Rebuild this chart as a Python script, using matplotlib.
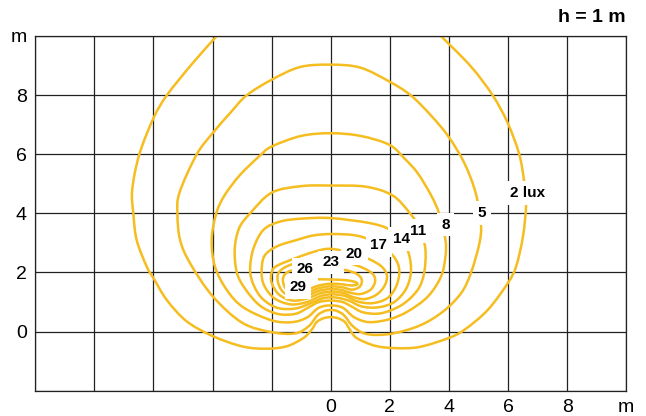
import numpy as np
import matplotlib
matplotlib.use("Agg")
import matplotlib.pyplot as plt
from matplotlib.path import Path
from matplotlib.patches import PathPatch

plt.rcParams['font.family'] = ['Liberation Sans', 'DejaVu Sans']

# isolux lines, traced as (x, y) in metres; the 2 lux line runs off the top
lux_2 = [(-3.6, 10.3), (-3.86, 10.0), (-4.7, 9.05), (-5.55, 7.99), (-6.0, 7.22),
         (-6.48, 5.99), (-6.72, 4.8), (-6.68, 3.98), (-6.57, 3.10), (-6.23, 2.2),
         (-6.0, 1.81), (-5.55, 1.07), (-4.88, 0.35), (-4.0, -0.15), (-3.0, -0.5),
         (-2.2, -0.58), (-1.5, -0.5), (-0.93, -0.22), (-0.65, 0.06), (-0.48, 0.32),
         (-0.25, 0.45), (0, 0.49), (0.25, 0.45), (0.48, 0.32), (0.65, 0.06),
         (0.88, -0.22), (1.5, -0.48), (2.2, -0.56), (3.0, -0.52), (3.98, -0.22),
         (4.52, 0.06), (5.31, 0.73), (5.99, 1.64), (6.27, 2.2), (6.5, 3.2),
         (6.61, 4.29), (6.55, 5.02), (6.38, 5.99), (5.99, 7.05), (5.48, 7.99),
         (4.74, 8.97), (3.73, 10.0), (3.5, 10.3)]

lux_5 = [(0, 9.03), (1.0, 8.93), (1.98, 8.46), (2.71, 7.99), (3.4, 7.3), (3.98, 6.6),
         (4.52, 5.7), (4.9, 4.7), (5.08, 3.67), (5.03, 2.99), (4.74, 1.98), (4.41, 1.30),
         (3.8, 0.68), (3.0, 0.2), (2.0, -0.08), (1.2, -0.08), (0.75, 0.18), (0.45, 0.55),
         (0.2, 0.7), (0, 0.73), (-0.2, 0.7), (-0.45, 0.55), (-0.75, 0.18), (-1.2, -0.06),
         (-2.0, -0.02), (-3.0, 0.3), (-4.0, 1.2), (-4.76, 2.31), (-5.10, 3.10),
         (-5.19, 3.98), (-5.12, 4.7), (-4.54, 5.99), (-4.0, 6.71), (-3.4, 7.4),
         (-2.85, 7.99), (-2.0, 8.52), (-1.04, 8.95)]

lux_8 = [(0, 6.71), (1.0, 6.62), (1.98, 6.32), (2.5, 5.85), (2.94, 5.36), (3.4, 4.6),
         (3.67, 3.98), (3.88, 3.10), (3.88, 2.54), (3.73, 1.86), (3.28, 1.18),
         (2.60, 0.68), (1.99, 0.42), (1.3, 0.32), (0.8, 0.48), (0.45, 0.78), (0.2, 0.87),
         (0, 0.88), (-0.2, 0.87), (-0.45, 0.78), (-0.8, 0.48), (-1.3, 0.32), (-2.0, 0.38),
         (-2.96, 0.82), (-3.52, 1.41), (-3.92, 2.2), (-4.03, 3.10), (-3.88, 3.98),
         (-3.6, 4.6), (-3.07, 5.3), (-2.4, 5.95), (-2.0, 6.26), (-1.0, 6.62)]

lux_11 = [(0, 4.94), (1.2, 4.9), (2.1, 4.6), (2.68, 4.0), (3.0, 3.5), (3.2, 2.8),
          (3.16, 2.0), (2.94, 1.41), (2.4, 0.9), (1.7, 0.62), (1.1, 0.65), (0.7, 0.85),
          (0.4, 1.0), (0, 1.05), (-0.4, 1.0), (-0.75, 0.82), (-1.2, 0.6), (-1.8, 0.6),
          (-2.4, 0.88), (-2.9, 1.45), (-3.18, 2.0), (-3.25, 2.8), (-3.1, 3.5),
          (-2.73, 4.0), (-2.0, 4.7), (-1.0, 4.92)]

lux_14 = [(0, 3.84), (1.32, 3.67), (2.0, 3.45), (2.4, 3.1), (2.65, 2.6), (2.71, 2.0),
          (2.55, 1.45), (2.15, 1.0), (1.6, 0.82), (1.05, 0.85), (0.6, 1.05), (0.25, 1.14),
          (0, 1.16), (-0.3, 1.12), (-0.7, 0.95), (-1.2, 0.78), (-1.8, 0.8), (-2.3, 1.1),
          (-2.6, 1.55), (-2.73, 2.08), (-2.62, 2.8), (-2.28, 3.44), (-1.72, 3.72),
          (-1.0, 3.82)]

lux_17 = [(0, 3.3), (0.8, 3.26), (1.4, 3.08), (1.9, 2.78), (2.22, 2.4), (2.32, 2.0),
          (2.2, 1.5), (1.9, 1.12), (1.4, 0.96), (0.9, 1.02), (0.5, 1.2), (0.2, 1.25),
          (0, 1.26), (-0.35, 1.2), (-0.8, 1.0), (-1.35, 0.92), (-1.9, 1.12), (-2.25, 1.55),
          (-2.34, 2.0), (-2.25, 2.55), (-1.83, 2.88), (-1.15, 3.1), (-0.6, 3.25)]

lux_20 = [(0, 2.8), (0.7, 2.66), (1.3, 2.45), (1.72, 2.2), (1.9, 1.9), (1.82, 1.55),
          (1.55, 1.25), (1.15, 1.1), (0.75, 1.17), (0.45, 1.3), (0.2, 1.34), (0, 1.35),
          (-0.35, 1.3), (-0.8, 1.12), (-1.3, 1.05), (-1.75, 1.25), (-2.0, 1.65),
          (-2.0, 2.0), (-1.83, 2.22), (-1.15, 2.5), (-0.5, 2.72)]

lux_23 = [(0, 2.42), (0.6, 2.32), (1.1, 2.15), (1.42, 1.95), (1.5, 1.7), (1.35, 1.42),
          (1.0, 1.27), (0.65, 1.32), (0.35, 1.41), (0, 1.44), (-0.4, 1.38), (-0.8, 1.22),
          (-1.3, 1.17), (-1.65, 1.38), (-1.8, 1.75), (-1.72, 2.05), (-1.3, 2.28),
          (-0.6, 2.4)]

lux_26 = [(0, 2.15), (0.5, 2.08), (0.88, 1.95), (1.05, 1.75), (0.98, 1.52), (0.72, 1.42),
          (0.38, 1.5), (0, 1.53), (-0.4, 1.47), (-0.8, 1.32), (-1.2, 1.28), (-1.52, 1.45),
          (-1.62, 1.78), (-1.45, 2.02), (-1.0, 2.12), (-0.5, 2.15)]

lux_29 = [(0, 1.76), (0.5, 1.74), (0.82, 1.68), (0.9, 1.6), (0.7, 1.56), (0.38, 1.6),
          (0, 1.62), (-0.4, 1.56), (-0.8, 1.42), (-1.15, 1.38), (-1.42, 1.5),
          (-1.45, 1.66), (-1.2, 1.74), (-0.6, 1.77)]

closed_lines = [lux_5, lux_8, lux_11, lux_14, lux_17, lux_20, lux_23, lux_26, lux_29]

# line labels and where they sit on their lines
label_text = ['2 lux', '5', '8', '11', '14', '17', '20', '23', '26', '29']
label_x = [6.65, 5.12, 3.88, 2.96, 2.38, 1.62, 0.80, 0.0, -0.87, -1.10]
label_y = [4.69, 4.01, 3.61, 3.40, 3.13, 2.93, 2.63, 2.34, 2.11, 1.50]

grid_pos_x = np.arange(-10, 11, 2)
grid_pos_y = np.arange(-2, 11, 2)
tick_pos = [0, 2, 4, 6, 8, 10]
tick_text = ['0', '2', '4', '6', '8', 'm']

line_color = '#F5BD1F'
grid_color = '#222222'


def smooth_path(pts, closed):
    """Catmull-Rom through the traced points, drawn as cubic Bezier segments."""
    p = np.array(pts, dtype=float)
    if closed:
        p_ext = np.vstack([p[-1], p, p[0], p[1]])
    else:
        p_ext = np.vstack([p[0], p, p[-1]])
    verts = [p_ext[1]]
    codes = [Path.MOVETO]
    for i in range(1, len(p_ext) - 2):
        p0, p1, p2, p3 = p_ext[i - 1], p_ext[i], p_ext[i + 1], p_ext[i + 2]
        verts += [p1 + (p2 - p0) / 6.0, p2 - (p3 - p1) / 6.0, p2]
        codes += [Path.CURVE4] * 3
    return Path(verts, codes)


fig = plt.figure(figsize=(6.46, 4.16), dpi=100)
ax = fig.add_axes([0.0546, 0.0608, 0.9149, 0.8527])

for gx in grid_pos_x:
    ax.axvline(gx, color=grid_color, lw=0.9, zorder=1)
for gy in grid_pos_y:
    ax.axhline(gy, color=grid_color, lw=0.9, zorder=1)

ax.add_patch(PathPatch(smooth_path(lux_2, False), facecolor='none',
                       edgecolor=line_color, lw=1.8, zorder=2))
for pts in closed_lines:
    ax.add_patch(PathPatch(smooth_path(pts, True), facecolor='none',
                           edgecolor=line_color, lw=1.8, zorder=2))

# white boxes first, then all the label text on top so boxes never hide digits
for txt, lx, ly in zip(label_text, label_x, label_y):
    ax.text(lx, ly, txt, ha='center', va='center', fontsize=11, fontweight='bold',
            color=(0, 0, 0, 0), zorder=3,
            bbox=dict(boxstyle='square,pad=0.3', facecolor='white', edgecolor='none'))
for txt, lx, ly in zip(label_text, label_x, label_y):
    ax.text(lx, ly, txt, ha='center', va='center', fontsize=11, fontweight='bold',
            color='black', zorder=4)

ax.set_xlim(-10, 10)
ax.set_ylim(-2, 10)
ax.set_xticks(tick_pos)
ax.set_xticklabels(tick_text)
ax.set_yticks(tick_pos)
ax.set_yticklabels(tick_text)
ax.tick_params(length=0, labelsize=14, pad=6)
for sp in ax.spines.values():
    sp.set_color(grid_color)
    sp.set_linewidth(0.9)

fig.text(0.968, 0.957, 'h = 1 m', ha='right', va='center', fontsize=14,
         fontweight='bold')

fig.savefig('out.png', dpi=100)
